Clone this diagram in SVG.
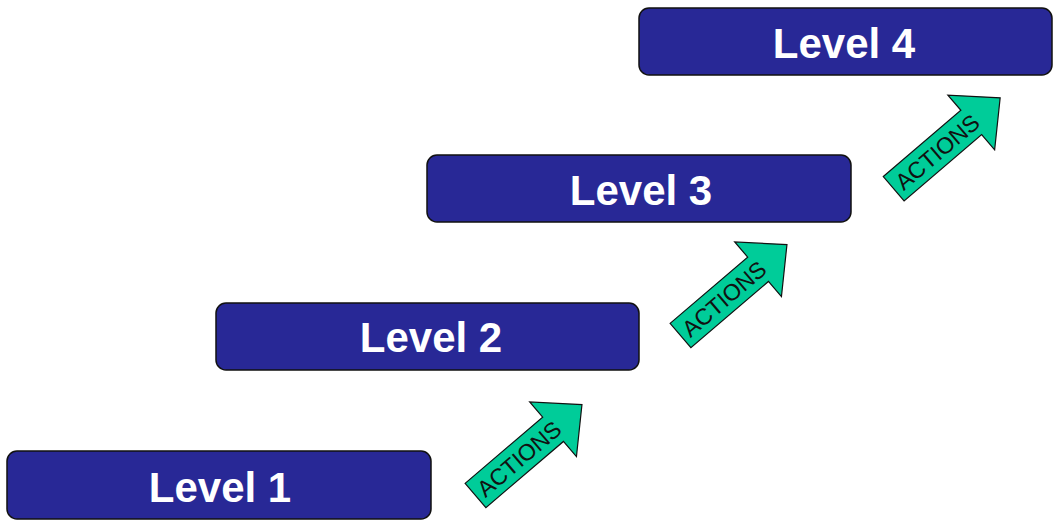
<svg xmlns="http://www.w3.org/2000/svg" width="1059" height="529" viewBox="0 0 1059 529">
<style>
.box{fill:#282896;stroke:#111;stroke-width:1.5}
.lbl{font-family:"Liberation Sans",Arial,sans-serif;font-weight:bold;font-size:42px;fill:#fff;text-anchor:middle}
.arr{fill:#00cc99;stroke:#111;stroke-width:1.2;stroke-linejoin:miter}
.act{font-family:"Liberation Sans",Arial,sans-serif;font-size:23px;fill:#111;text-anchor:middle}
</style>
<defs>
<polygon id="arrowShape" class="arr" points="0,-16 102,-16 102,-36 140,0 102,36 102,16 0,16"/>
</defs>
<rect width="1059" height="529" fill="#fff"/>
<g id="level1"><rect class="box" x="7" y="451" width="424" height="68" rx="10"/><text class="lbl" x="220" y="501.5">Level 1</text></g>
<g id="level2"><rect class="box" x="216" y="303" width="423" height="67" rx="10"/><text class="lbl" x="431" y="352">Level 2</text></g>
<g id="level3"><rect class="box" x="427" y="155" width="424" height="67" rx="10"/><text class="lbl" x="641" y="204.5">Level 3</text></g>
<g id="level4"><rect class="box" x="639" y="8" width="413" height="67" rx="10"/><text class="lbl" x="844" y="58.3">Level 4</text></g>
<g id="connectors">
<g transform="translate(475.5,495.5) rotate(-40.5)"><use href="#arrowShape"/><text class="act" x="57" y="8.5">ACTIONS</text></g>
<g transform="translate(680.5,335.5) rotate(-40.5)"><use href="#arrowShape"/><text class="act" x="57" y="8.5">ACTIONS</text></g>
<g transform="translate(893.7,188.7) rotate(-40.5)"><use href="#arrowShape"/><text class="act" x="57" y="8.5">ACTIONS</text></g>
</g>
</svg>
